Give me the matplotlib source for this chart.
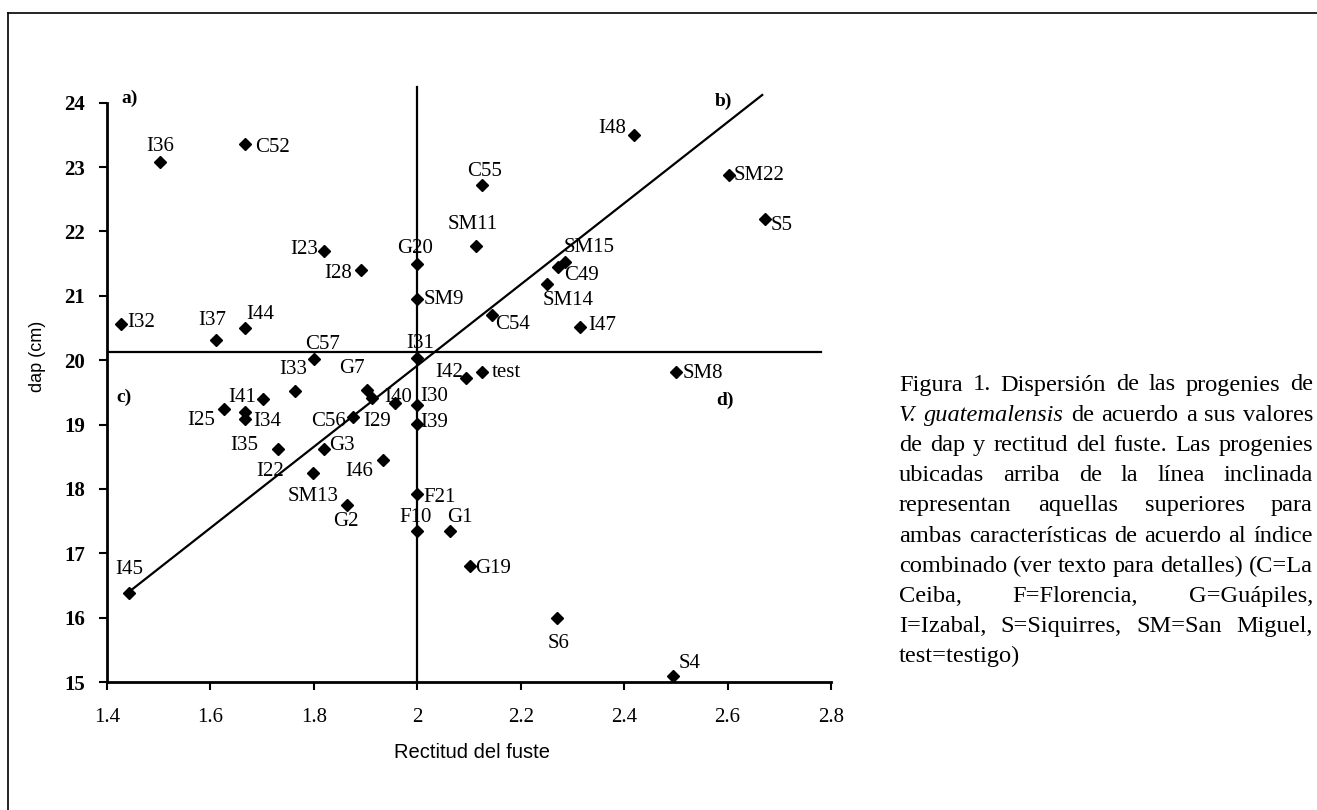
import matplotlib
matplotlib.use('Agg')
import matplotlib.pyplot as plt
from matplotlib.lines import Line2D

plt.rcParams['font.family'] = ['Liberation Serif', 'DejaVu Serif']

#progenies: name, rectitud del fuste, dap (cm)
names = ['I36', 'C52', 'I23', 'I28', 'G20', 'SM9', 'I32', 'I37', 'I44',
         'I48', 'C55', 'SM22', 'S5', 'SM11', 'SM15', 'C49', 'SM14', 'C54', 'I47',
         'C57', 'I31', 'I33', 'G7', 'I29', 'I40', 'I30', 'I39', 'I41', 'I25', '', 'I34',
         'C56', 'I35', 'G3', 'I46', 'SM13', 'G2', 'F21', 'F10', 'G1', 'G19', 'I45',
         'I42', 'test', 'SM8', 'S6', 'S4']
rectitud = [1.503, 1.667, 1.820, 1.891, 2.0, 2.0, 1.428, 1.611, 1.666,
            2.419, 2.125, 2.602, 2.673, 2.114, 2.286, 2.273, 2.250, 2.144, 2.314,
            1.801, 2.0, 1.764, 1.902, 1.912, 1.957, 2.0, 2.0, 1.701, 1.627, 1.666, 1.666,
            1.875, 1.731, 1.820, 1.934, 1.799, 1.864, 2.0, 2.0, 2.063, 2.101, 1.443,
            2.094, 2.125, 2.500, 2.270, 2.495]
dap = [23.08, 23.36, 21.69, 21.40, 21.49, 20.95, 20.56, 20.32, 20.50,
       23.50, 22.72, 22.88, 22.19, 21.77, 21.52, 21.44, 21.18, 20.70, 20.51,
       20.02, 20.03, 19.52, 19.53, 19.41, 19.34, 19.31, 19.01, 19.39, 19.24, 19.20, 19.08,
       19.11, 18.62, 18.62, 18.45, 18.25, 17.75, 17.92, 17.35, 17.35, 16.80, 16.39,
       19.72, 19.81, 19.81, 15.99, 15.09]

#reference lines (means and combined index line)
media_rectitud = 2.0
media_dap = 20.12
indice_x = [1.444, 2.667]
indice_y = [16.41, 24.12]

xticks = [1.4, 1.6, 1.8, 2, 2.2, 2.4, 2.6, 2.8]
xtick_labels = ['1.4', '1.6', '1.8', '2', '2.2', '2.4', '2.6', '2.8']
yticks = [15, 16, 17, 18, 19, 20, 21, 22, 23, 24]

#label placement in pixels: dx, dy, ha, va
label_pos = {
    'I36': (0, 6, 'center', 'bottom'), 'C52': (10, -4, 'left', 'center'),
    'I23': (-6, 2, 'right', 'center'), 'I28': (-9, -3, 'right', 'center'),
    'G20': (-2, 6, 'center', 'bottom'), 'SM9': (6, 0, 'left', 'center'),
    'I32': (6, 2, 'left', 'center'), 'I37': (-4, 10, 'center', 'bottom'),
    'I44': (2, 4, 'left', 'bottom'), 'I48': (-8, 6, 'right', 'center'),
    'C55': (3, 4, 'center', 'bottom'), 'SM22': (5, -1, 'left', 'center'),
    'S5': (5, -6, 'left', 'center'), 'SM11': (-4, 12, 'center', 'bottom'),
    'SM15': (-2, 5, 'left', 'bottom'), 'C49': (6, -8, 'left', 'center'),
    'SM14': (-4, -7, 'left', 'top'), 'C54': (3, -9, 'left', 'center'),
    'I47': (9, 2, 'left', 'center'), 'C57': (8, 5, 'center', 'bottom'),
    'I31': (3, 5, 'center', 'bottom'), 'I33': (-2, 12, 'center', 'bottom'),
    'G7': (-15, 12, 'center', 'bottom'), 'I29': (5, -23, 'center', 'center'),
    'I40': (3, 5, 'center', 'center'), 'I30': (3, 8, 'left', 'center'),
    'I39': (3, 1, 'left', 'center'), 'I41': (-7, 2, 'right', 'center'),
    'I25': (-9, -11, 'right', 'center'), 'I34': (9, -2, 'left', 'center'),
    'C56': (-7, -4, 'right', 'center'), 'I35': (-20, 3, 'right', 'center'),
    'G3': (5, 3, 'left', 'center'), 'I46': (-10, -12, 'right', 'center'),
    'SM13': (0, -14, 'center', 'top'), 'G2': (-1, -7, 'center', 'top'),
    'F21': (6, -3, 'left', 'center'), 'F10': (-2, 4, 'center', 'bottom'),
    'G1': (-3, 4, 'left', 'bottom'), 'G19': (6, -2, 'left', 'center'),
    'I45': (0, 14, 'center', 'bottom'), 'I42': (-3, 6, 'right', 'center'),
    'test': (10, 0, 'left', 'center'), 'SM8': (7, -1, 'left', 'center'),
    'S6': (2, -16, 'center', 'top'), 'S4': (5, 3, 'left', 'bottom'),
}

caption = [
    [('Figura 1. Dispersión de las progenies de', 'normal')],
    [('V. guatemalensis', 'italic'), ('de acuerdo a sus valores', 'normal')],
    [('de dap y rectitud del fuste. Las progenies', 'normal')],
    [('ubicadas arriba de la línea inclinada', 'normal')],
    [('representan aquellas superiores para', 'normal')],
    [('ambas características de acuerdo al índice', 'normal')],
    [('combinado (ver texto para detalles) (C=La', 'normal')],
    [('Ceiba, F=Florencia, G=Guápiles,', 'normal')],
    [('I=Izabal, S=Siquirres, SM=San Miguel,', 'normal')],
    [('test=testigo)', 'normal')],
]

W, H = 1317, 810
fig = plt.figure(figsize=(W / 100, H / 100), dpi=100)
ax = fig.add_axes([107 / W, 1 - 682 / H, 724 / W, 579.3 / H])

ax.set_xlim(1.4, 2.8)
ax.set_ylim(15, 24)
for s in ['top', 'right']:
    ax.spines[s].set_visible(False)
for s in ['left', 'bottom']:
    ax.spines[s].set_linewidth(2)
ax.set_xticks(xticks)
ax.set_xticklabels(xtick_labels, fontsize=15)
ax.set_yticks(yticks)
ax.set_yticklabels([str(v) for v in yticks], fontsize=15, fontweight='bold')
ax.tick_params(axis='x', direction='out', length=6, width=1.5, pad=13)
ax.tick_params(axis='y', direction='out', length=6, width=1.5, pad=10)

#mean lines and index line
ax.plot([media_rectitud, media_rectitud], [15, 24.25], color='k', lw=1.6, clip_on=False)
ax.plot([1.4, 2.78], [media_dap, media_dap], color='k', lw=1.6)
ax.plot(indice_x, indice_y, color='k', lw=1.6, clip_on=False)

ax.plot(rectitud, dap, 'D', color='k', markersize=6.5, linestyle='none', zorder=3, clip_on=False)

for n, x, y in zip(names, rectitud, dap):
    if n in label_pos:
        dx, dy, ha, va = label_pos[n]
        ax.annotate(n, (x, y), xytext=(dx, dy), textcoords='offset pixels',
                    ha=ha, va=va, fontsize=15)
ax.text(1.715, 18.27, 'I22', ha='center', va='center', fontsize=15)

#quadrant letters
ax.text(1.428, 24.07, 'a)', ha='left', va='center', fontsize=14, fontweight='bold', clip_on=False)
ax.text(2.576, 24.02, 'b)', ha='left', va='center', fontsize=14, fontweight='bold', clip_on=False)
ax.text(1.419, 19.43, 'c)', ha='left', va='center', fontsize=14, fontweight='bold')
ax.text(2.579, 19.38, 'd)', ha='left', va='center', fontsize=14, fontweight='bold')

fig.text(37 / W, 1 - 356 / H, 'dap (cm)', rotation=90, ha='center', va='center',
         fontsize=13, family='Liberation Sans')
fig.text(472 / W, 1 - 752 / H, 'Rectitud del fuste', ha='center', va='center',
         fontsize=14.5, family='Liberation Sans')

#frame lines of the page
fig.add_artist(Line2D([8 / W, 8 / W], [0, 1 - 13 / H], color='k', lw=1.2))
fig.add_artist(Line2D([8 / W, 1], [1 - 13 / H, 1 - 13 / H], color='k', lw=1.2))

#justified caption, font size chosen so the longest line just fits
renderer = fig.canvas.get_renderer()
left, right = 899, 1313
base = 16.5
widest = 0
for line in caption:
    t = fig.text(0, 0, ' '.join(c for c, s in line), fontsize=base)
    widest = max(widest, t.get_window_extent(renderer).width)
    t.remove()
csize = base * (right - left) / widest

for i, line in enumerate(caption):
    ypix = 385 + i * 30.2
    words = []
    for chunk, style in line:
        for w in chunk.split(' '):
            words.append((w, style))
    texts = []
    total = 0
    for w, style in words:
        t = fig.text(0, 1 - ypix / H, w, fontsize=csize, style=style, va='center', ha='left')
        wd = t.get_window_extent(renderer).width
        texts.append((t, wd))
        total += wd
    if i == len(caption) - 1:
        gap = 0.25 * csize * 100 / 72
    else:
        gap = (right - left - total) / (len(words) - 1)
    xpix = left
    for t, wd in texts:
        t.set_x(xpix / W)
        xpix += wd + gap

fig.savefig('out.png', dpi=100)
